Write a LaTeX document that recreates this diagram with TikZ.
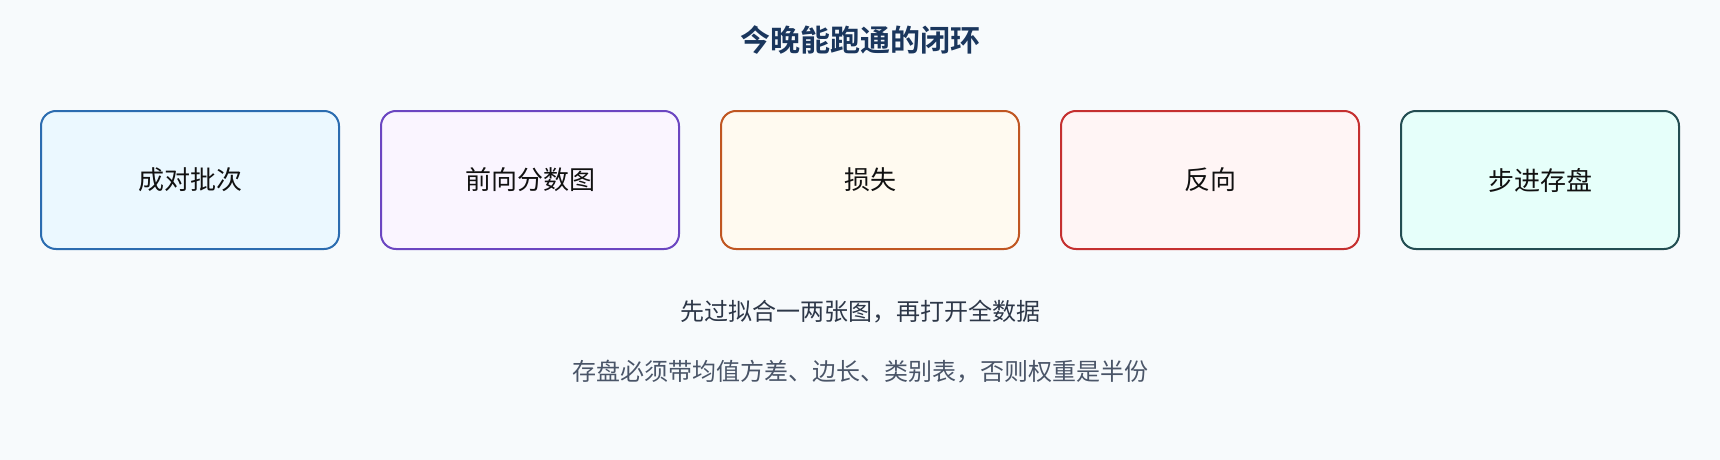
\documentclass[tikz,border=0pt]{standalone}
\usepackage{fontspec}
\newfontfamily\cjk{Noto Sans CJK SC}
\newfontfamily\cjkbold{Noto Sans CJK SC Bold}
\definecolor{bgc}{HTML}{F7FAFC}
\definecolor{titlec}{HTML}{1A365D}
\definecolor{noteA}{HTML}{2D3748}
\definecolor{noteB}{HTML}{4A5568}
\definecolor{labc}{HTML}{111111}
\definecolor{b1d}{HTML}{2B6CB0}\definecolor{b1f}{HTML}{EBF8FF}
\definecolor{b2d}{HTML}{6B46C1}\definecolor{b2f}{HTML}{FAF5FF}
\definecolor{b3d}{HTML}{C05621}\definecolor{b3f}{HTML}{FFFAF0}
\definecolor{b4d}{HTML}{C53030}\definecolor{b4f}{HTML}{FFF5F5}
\definecolor{b5d}{HTML}{234E52}\definecolor{b5f}{HTML}{E6FFFA}
\tikzset{
  stagebox/.style={draw, line width=2pt, rounded corners=15pt, minimum height=138pt,
    inner sep=0pt, font=\cjk\fontsize{26pt}{30pt}\selectfont, text=labc},
  titletext/.style={inner sep=0pt, font=\cjkbold\fontsize{30pt}{34pt}\selectfont, text=titlec},
  notetext/.style={inner sep=0pt, font=\cjk\fontsize{24pt}{28pt}\selectfont},
}
\begin{document}
\begin{tikzpicture}[x=1pt,y=-1pt]
\fill[bgc] (0,0) rectangle (1720,460);
\useasboundingbox (0,0) rectangle (1720,460);
\node[titletext] (title) at (860,40.5) {今晚能跑通的闭环};
\node[stagebox, draw=b1d, fill=b1f, minimum width=298pt] (s1) at (190,180) {成对批次};
\node[stagebox, draw=b2d, fill=b2f, minimum width=298pt] (s2) at (530,180) {前向分数图};
\node[stagebox, draw=b3d, fill=b3f, minimum width=298pt] (s3) at (870,180) {损失};
\node[stagebox, draw=b4d, fill=b4f, minimum width=298pt] (s4) at (1210,180) {反向};
\node[stagebox, draw=b5d, fill=b5f, minimum width=278pt] (s5) at (1540,180) {步进存盘};
\node[notetext, text=noteA] (n1) at (860,312) {先过拟合一两张图，再打开全数据};
\node[notetext, text=noteB] (n2) at (860,372) {存盘必须带均值方差、边长、类别表，否则权重是半份};
\end{tikzpicture}
\end{document}
